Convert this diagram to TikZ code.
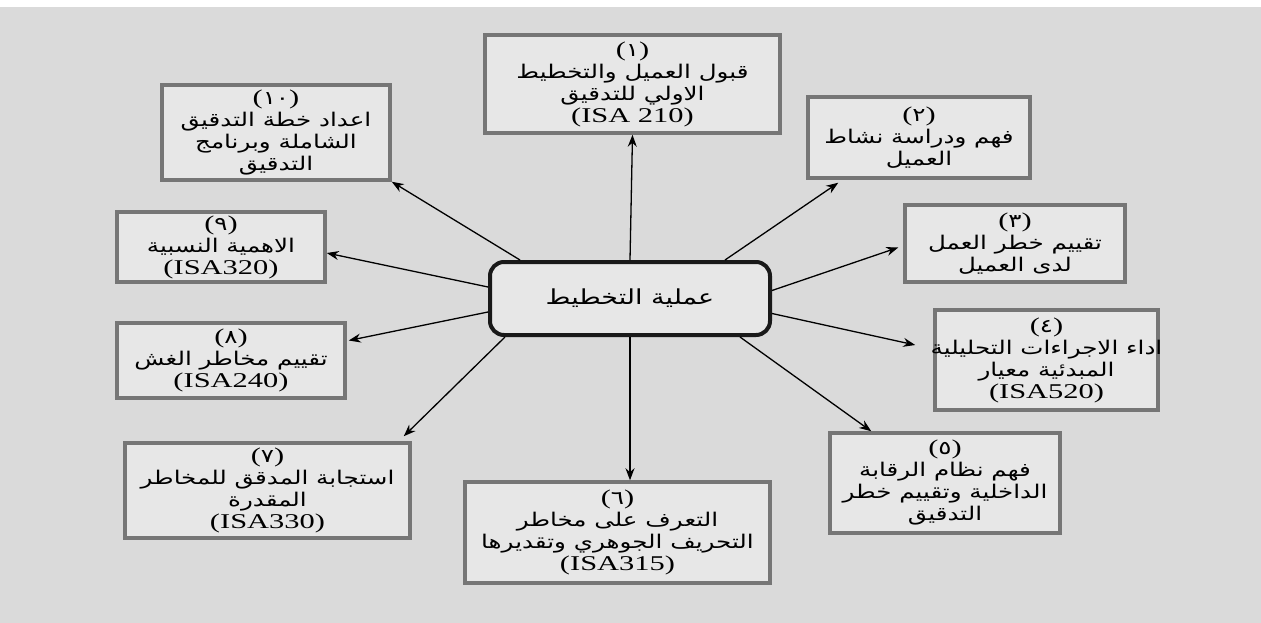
\documentclass[tikz,border=0pt]{standalone}
\usepackage{fontspec}
\setmainfont[FakeStretch=1.45]{Liberation Serif}
\newfontfamily\arabicfont[Script=Arabic,Scale=0.9,FakeStretch=1.3]{DejaVu Sans}
\TeXXeTstate=1
\usetikzlibrary{calc,arrows.meta}
\definecolor{bg}{RGB}{218,218,218}
\definecolor{boxfill}{RGB}{231,231,231}
\definecolor{frame}{RGB}{118,118,118}
\newcommand{\arl}[1]{{\arabicfont\beginR #1\endR}}
\newcommand{\nmb}[1]{({\arabicfont #1})}
\begin{document}
\begin{tikzpicture}[x=1pt,y=-1pt,
  box/.style={draw=frame, line width=3.5pt, fill=boxfill, align=center,
    font=\fontsize{21}{22}\selectfont, inner sep=0pt},
  hub/.style={draw=black!90, line width=4pt, rounded corners=14pt, fill=boxfill,
    font=\fontsize{23}{24}\selectfont, inner sep=0pt, minimum width=280pt, minimum height=73pt},
  arr/.style={-{Stealth[length=12pt,width=9pt]}, line width=1.3pt}]
\fill[white] (0,0) rectangle (1261,623);
\fill[bg] (0,7) rectangle (1261,623);
\useasboundingbox (0,0) rectangle (1261,623);

\node[hub] (hub) at (630,298.5) {\arl{عملية التخطيط}};

\node[box, minimum width=295pt, minimum height=98pt] (b1) at (632.5,84)
  {\nmb{١}\\\arl{قبول العميل والتخطيط}\\\arl{الاولي للتدقيق}\\(ISA 210)};
\node[box, minimum width=228pt, minimum height=95pt] (b10) at (276,132.5)
  {\nmb{١٠}\\\arl{اعداد خطة التدقيق}\\\arl{الشاملة وبرنامج}\\\arl{التدقيق}};
\node[box, minimum width=222pt, minimum height=81pt] (b2) at (919,137.5)
  {\nmb{٢}\\\arl{فهم ودراسة نشاط}\\\arl{العميل}};
\node[box, minimum width=220pt, minimum height=77pt] (b3) at (1015,243.5)
  {\nmb{٣}\\\arl{تقييم خطر العمل}\\\arl{لدى العميل}};
\node[box, minimum width=223pt, minimum height=100pt] (b4) at (1046.5,360)
  {\nmb{٤}\\\makebox[0pt]{\arl{اداء الاجراءات التحليلية}}\\\arl{المبدئية معيار}\\(ISA520)};
\node[box, minimum width=230pt, minimum height=100pt] (b5) at (945,483)
  {\nmb{٥}\\\arl{فهم نظام الرقابة}\\\arl{الداخلية وتقييم خطر}\\\arl{التدقيق}};
\node[box, minimum width=305pt, minimum height=101pt] (b6) at (617.5,532.5)
  {\nmb{٦}\\\arl{التعرف على مخاطر}\\\arl{التحريف الجوهري وتقديرها}\\(ISA315)};
\node[box, minimum width=285pt, minimum height=95pt] (b7) at (267.5,490.5)
  {\nmb{٧}\\\arl{استجابة المدقق للمخاطر}\\\arl{المقدرة}\\(ISA330)};
\node[box, minimum width=228pt, minimum height=75pt] (b8) at (231,360.5)
  {\nmb{٨}\\\arl{تقييم مخاطر الغش}\\(ISA240)};
\node[box, minimum width=208pt, minimum height=70pt] (b9) at (221,247)
  {\nmb{٩}\\\arl{الاهمية النسبية}\\(ISA320)};

\draw[arr] (hub.north) -- (b1.south);
\draw[arr] ($(hub.north)+(-110,0)$) -- (b10.south east);
\draw[arr] ($(hub.north)+(95,0)$) -- ($(b2.south west)+(32,3)$);
\draw[arr] ($(hub.east)+(0,-8)$) -- ($(b3.west)+(-5,4)$);
\draw[arr] ($(hub.east)+(0,15)$) -- ($(b4.west)+(-18,-15)$);
\draw[arr] ($(hub.south)+(110,0)$) -- ($(b5.north west)+(43,0)$);
\draw[arr] (hub.south) -- (hub.south |- b6.north);
\draw[arr] ($(hub.south)+(-125,0)$) -- ($(b7.north east)+(-8,-5)$);
\draw[arr] ($(hub.west)+(0,13.5)$) -- ($(b8.east)+(2,-20)$);
\draw[arr] ($(hub.west)+(0,-11.5)$) -- ($(b9.east)+(0,6)$);
\end{tikzpicture}
\end{document}
